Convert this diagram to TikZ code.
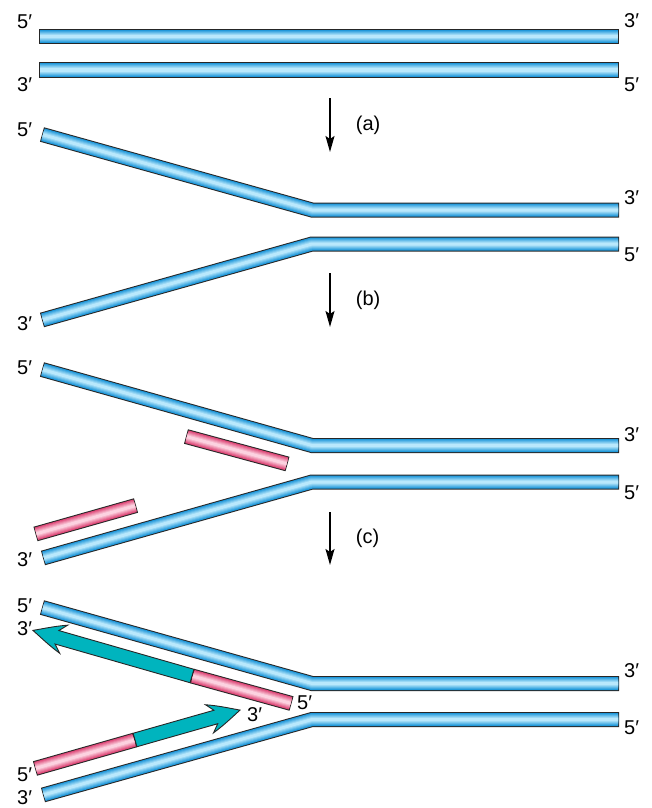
\documentclass[tikz,border=0pt]{standalone}
\usepackage{fontspec}
\setmainfont{Liberation Sans}
\usepackage{tikz}
\usetikzlibrary{arrows.meta, positioning}
\definecolor{dnablue}{RGB}{32,152,218}
\definecolor{dnalight}{RGB}{185,232,252}
\definecolor{primerred}{RGB}{222,72,120}
\definecolor{primerlight}{RGB}{252,210,224}
\definecolor{newteal}{RGB}{0,180,190}
\tikzset{
  %% ---- tubes ----
  tubeedge/.style  = {line width=15pt, draw=black!85, line cap=butt, line join=miter},
  tubefill/.style  = {line width=#1, line cap=butt, line join=miter,
                      shorten <=1pt, shorten >=1pt},
  tubefill/.default = 13pt,
  %% ---- new strands ----
  newstrand/.style = {fill=newteal, draw=black!85, line width=0.9pt, line join=miter},
  %% ---- labels ----
  endlbl/.style    = {anchor=base west, inner sep=0pt},
  steplbl/.style   = {inner sep=0pt, right=25pt},
  %% ---- arrows ----
  steparrow/.style = {-{Stealth[length=16pt, width=9pt, inset=3pt]}, line width=1.7pt},
}
\newcommand{\tube}[3]{% #1 edge colour, #2 centre colour, #3 path
  \draw[tubeedge] #3;
  \draw[tubefill, draw=#1] #3;
  \draw[tubefill=11pt, draw=#1!80!#2] #3;
  \draw[tubefill=9pt, draw=#1!60!#2] #3;
  \draw[tubefill=7pt, draw=#1!40!#2] #3;
  \draw[tubefill=5pt, draw=#1!20!#2] #3;
  \draw[tubefill=3pt, draw=#2] #3;
}

\begin{document}
\begin{tikzpicture}[x=1pt, y=-1pt,
  every node/.style = {font=\fontsize{20}{24}\selectfont}]
\useasboundingbox (0,0) rectangle (652,808);

%% ---- duplex ----
\tube{dnablue}{dnalight}{(39,36.5) -- (619,36.5)}
\tube{dnablue}{dnalight}{(39,70) -- (619,70)}
\node[endlbl] (d5a) at (17,29)  {5′};
\node[endlbl] (d3a) at (624,28) {3′};
\node[endlbl] (d3b) at (17,91)  {3′};
\node[endlbl] (d5b) at (624,92) {5′};

\coordinate (a1) at (330,98);
\coordinate (a2) at (330,152);
\draw[steparrow] (a1) -- node[steplbl] (la) {(a)} (a2);

%% ---- melted ----
\tube{dnablue}{dnalight}{(42,134.5) -- (312,210) -- (619,210)}
\tube{dnablue}{dnalight}{(42,320) -- (312,244) -- (619,244)}
\node[endlbl] (m5a) at (17,136)  {5′};
\node[endlbl] (m3a) at (624,204) {3′};
\node[endlbl] (m5b) at (624,261) {5′};
\node[endlbl] (m3b) at (17,330)  {3′};

\coordinate (b1) at (330,273);
\coordinate (b2) at (330,327);
\draw[steparrow] (b1) -- node[steplbl] (lb) {(b)} (b2);

%% ---- annealed primers ----
\tube{dnablue}{dnalight}{(42,369.5) -- (312,445.5) -- (619,445.5)}
\tube{dnablue}{dnalight}{(43,558) -- (312,482) -- (619,482)}
\tube{primerred}{primerlight}{(186,436.5) -- (287.5,464)}
\tube{primerred}{primerlight}{(35.5,534) -- (136,505.5)}
\node[endlbl] (p5a) at (17,374)  {5′};
\node[endlbl] (p3a) at (624,441) {3′};
\node[endlbl] (p5b) at (624,499) {5′};
\node[endlbl] (p3b) at (17,566)  {3′};

\coordinate (c1) at (330,512);
\coordinate (c2) at (330,565);
\draw[steparrow] (c1) -- node[steplbl] (lc) {(c)} (c2);

%% ---- extension ----
\tube{dnablue}{dnalight}{(42,607.5) -- (312,683.5) -- (619,683.5)}
\tube{dnablue}{dnalight}{(43,795) -- (312,719.5) -- (619,719.5)}
\begin{scope}[shift={(192,676)}, rotate=164]
  \path[newstrand] (0,7) -- (140.5,7) -- (133.5,14.6)
    .. controls (146,10) and (156,4.5) .. (165.5,0)
    .. controls (156,-4.5) and (146,-10) .. (133.5,-14.6)
    -- (140.5,-7) -- (0,-7) -- cycle;
\end{scope}
\begin{scope}[shift={(135,740)}, rotate=15.9]
  \path[newstrand] (0,7) -- (84,7) -- (77.5,14.6)
    .. controls (90,10) and (100,4.5) .. (109.2,0)
    .. controls (100,-4.5) and (90,-10) .. (77.5,-14.6)
    -- (84,-7) -- (0,-7) -- cycle;
\end{scope}
\tube{primerred}{primerlight}{(291.5,703.5) -- (192,676)}
\tube{primerred}{primerlight}{(35,768.5) -- (135,740)}
\node[endlbl] (e5a) at (17,612)  {5′};
\node[endlbl] (e3a) at (17,635)  {3′};
\node[endlbl] (e3c) at (247,721) {3′};
\node[endlbl] (e5c) at (297,709) {5′};
\node[endlbl] (e3b) at (624,677) {3′};
\node[endlbl] (e5b) at (624,734) {5′};
\node[endlbl] (e5d) at (17,781)  {5′};
\node[endlbl] (e3d) at (17,804)  {3′};
\end{tikzpicture}
\end{document}
